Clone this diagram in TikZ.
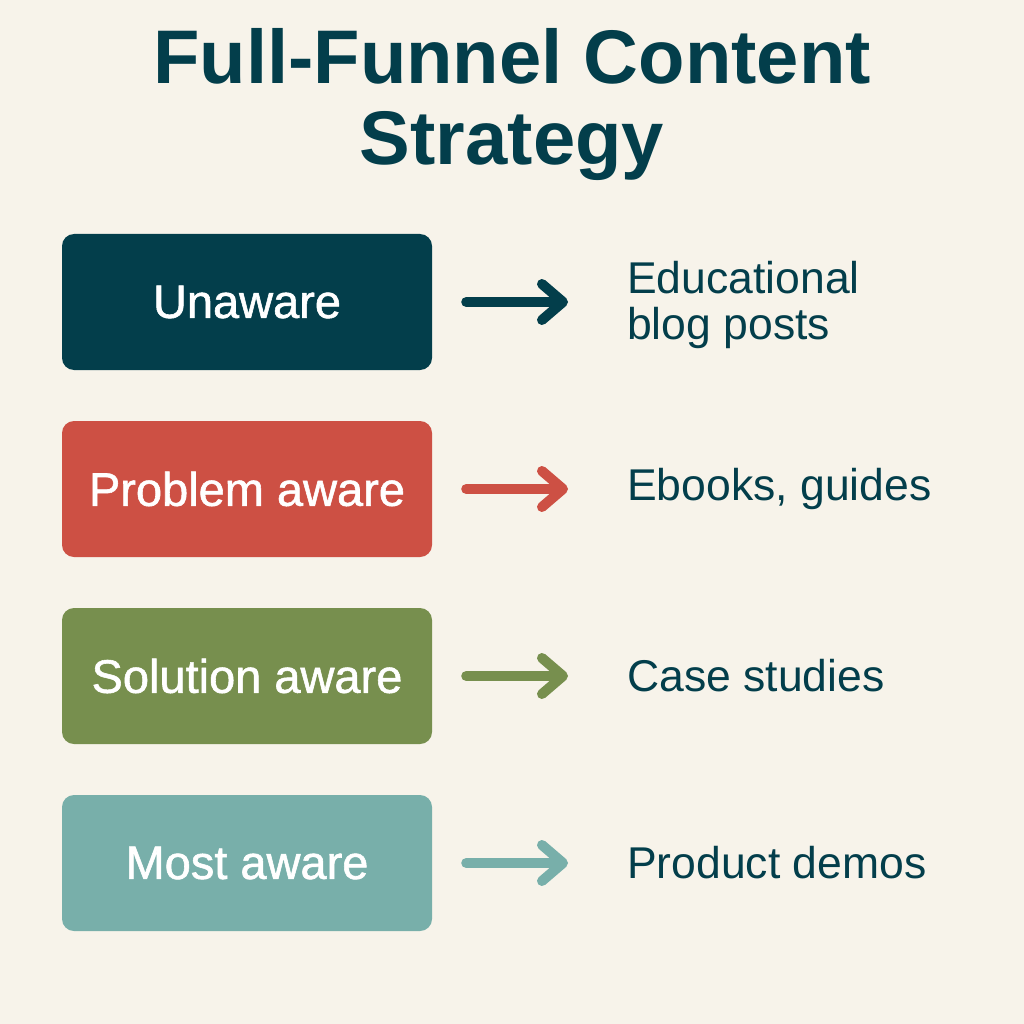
\documentclass[tikz,border=0pt]{standalone}
\usepackage{fontspec}
\setmainfont{Liberation Sans}
\newfontfamily\stagefont[FakeBold=1.2]{Liberation Sans}
\usetikzlibrary{positioning}
\usetikzlibrary{calc}
\usetikzlibrary{arrows.meta}
\definecolor{bgcream}{HTML}{F7F3EA}
\definecolor{dteal}{HTML}{033E4B}
\definecolor{brick}{HTML}{CD5044}
\definecolor{olive}{HTML}{778F4E}
\definecolor{sage}{HTML}{78AFAA}
\tikzset{
  stage/.style={fill=#1, rounded corners=12pt, minimum width=370pt, minimum height=136pt,
    text=white, font=\stagefont\fontsize{47}{47}\selectfont, inner sep=0pt},
  note/.style={anchor=west, inner sep=0pt, align=left, text=dteal,
    font=\fontsize{44.5}{46}\selectfont},
  headline/.style={anchor=base, inner sep=0pt, text=dteal,
    font=\bfseries\fontsize{76}{76}\selectfont},
  flow/.style={draw=#1, line width=10pt, line cap=round,
    -{Straight Barb[length=21pt, width=36pt, round]}, shorten <=34pt, shorten >=59pt}
}

\begin{document}
\begin{tikzpicture}[x=1pt, y=-1pt]
    \useasboundingbox (0,0) rectangle (1024,1024);
    \fill[bgcream] (0,0) rectangle (1024,1024);
    \path (512,84) node[headline] (T1) {Full-Funnel Content}
     ++ (0,81) node[headline] (T2) {Strategy};
    \path (247,302) node[stage=dteal] (UA) {Unaware}
     ++ (0,187) node[stage=brick] (PA) {Problem aware}
     ++ (0,187) node[stage=olive] (SA) {Solution aware}
     ++ (0,187) node[stage=sage] (MA) {Most aware};
    \path (627,305) node[note] (UAc) {Educational\\blog posts}
     ++ (0,184) node[note] (PAc) {Ebooks, guides}
     ++ (0,187) node[note] (SAc) {Case studies}
     ++ (0,187) node[note] (MAc) {Product demos};
    \draw[flow=dteal] (UA.east) -- (UA.east -| UAc.west);
    \draw[flow=brick] (PA) -- (PAc);
    \draw[flow=olive] (SA) -- (SAc);
    \draw[flow=sage] (MA) -- (MAc);
\end{tikzpicture}
\end{document}
